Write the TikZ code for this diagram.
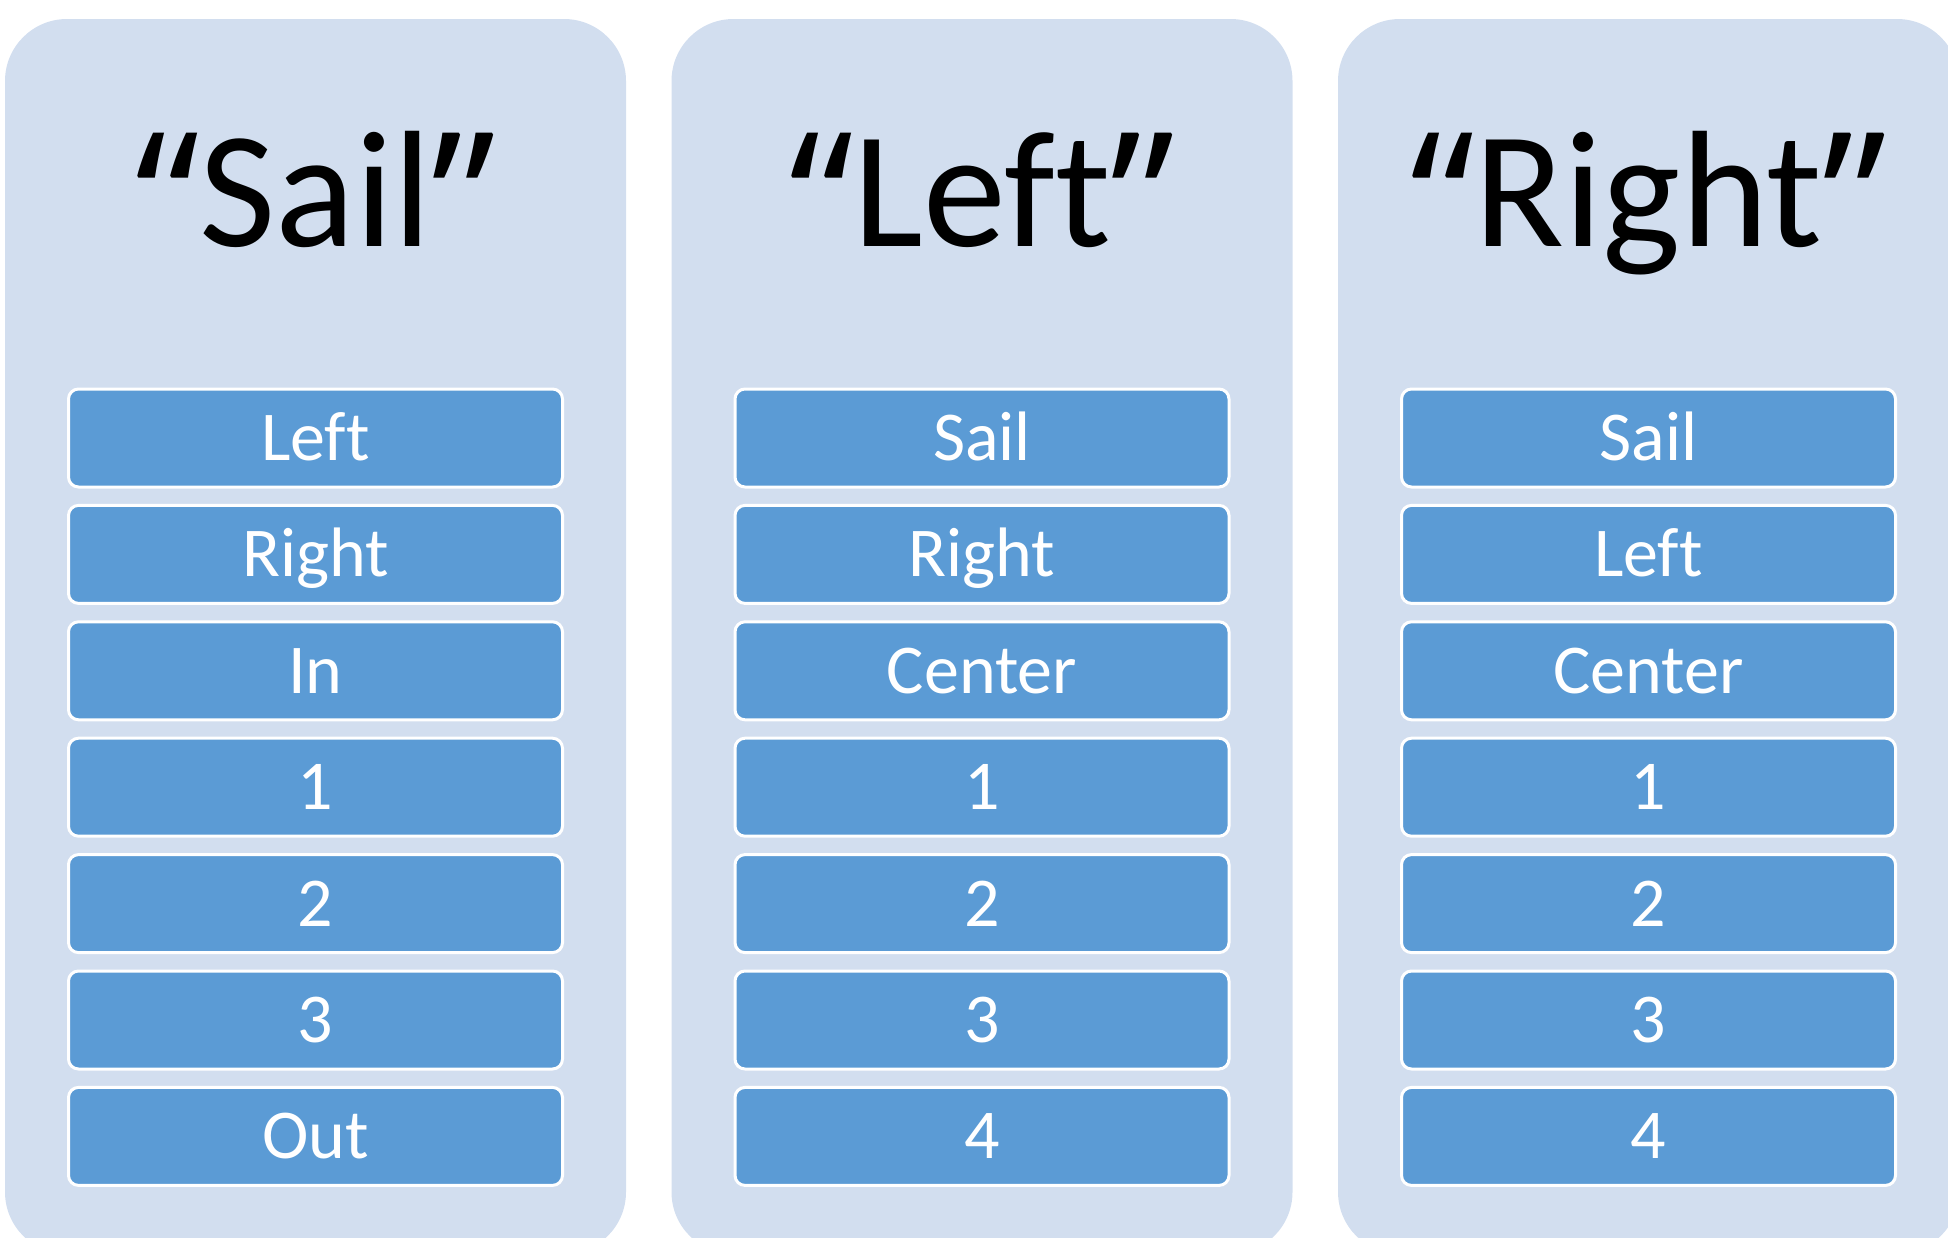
\documentclass[tikz,border=0pt]{standalone}
\usepackage{fontspec}
\setmainfont{Carlito}[Ligatures={NoCommon}]
\newfontfamily\quotefont{Open Sans}
\newcommand{\openq}{\raisebox{-9pt}{\quotefont\fontsize{92}{96}\selectfont “}}
\newcommand{\closeq}{\raisebox{-9pt}{\quotefont\fontsize{92}{96}\selectfont ”}}
\definecolor{panelfill}{HTML}{D2DEEF}
\definecolor{itemfill}{HTML}{5B9BD5}
\begin{document}
\begin{tikzpicture}[x=0.5pt,y=-0.5pt,
  panel/.style={fill=panelfill, rounded corners=31pt},
  item/.style={draw=white, line width=1.5pt, fill=itemfill, rounded corners=5pt,
    minimum width=247pt, minimum height=49pt, inner sep=0pt,
    text=white, font=\fontsize{35}{40}\selectfont,
    text height=22.5pt, text depth=0pt},
  title/.style={font=\fontsize{83}{90}\selectfont, anchor=base, inner sep=0pt}]
\useasboundingbox (0,0) rectangle (1948,1237);
% three rounded column panels, the bottom and right edges run off the page
\begin{scope}
  \clip (0,0) rectangle (1948,1237);
  \foreach \px in {5, 671.5, 1338} {
    \fill[panel] (\px,19) rectangle ++(621,1235);
  }
\end{scope}
% column headings
\node[title] (t1) at (315.5,246) {\openq Sail\closeq};
\node[title] (t2) at (982,246) {\openq Left\closeq};
\node[title] (t3) at (1648.5,246) {\openq Right\closeq};
% column entries
\foreach \col/\cx/\entries in {
    a/315.5/{Left,Right,In,1,2,3,Out},
    b/982/{Sail,Right,Center,1,2,3,4},
    c/1648.5/{Sail,Left,Center,1,2,3,4}} {
  \foreach \txt [count=\i from 0] in \entries {
    \node[item] (\col\i) at (\cx, 438+116.4*\i) {\txt};
  }
}
\end{tikzpicture}
\end{document}
